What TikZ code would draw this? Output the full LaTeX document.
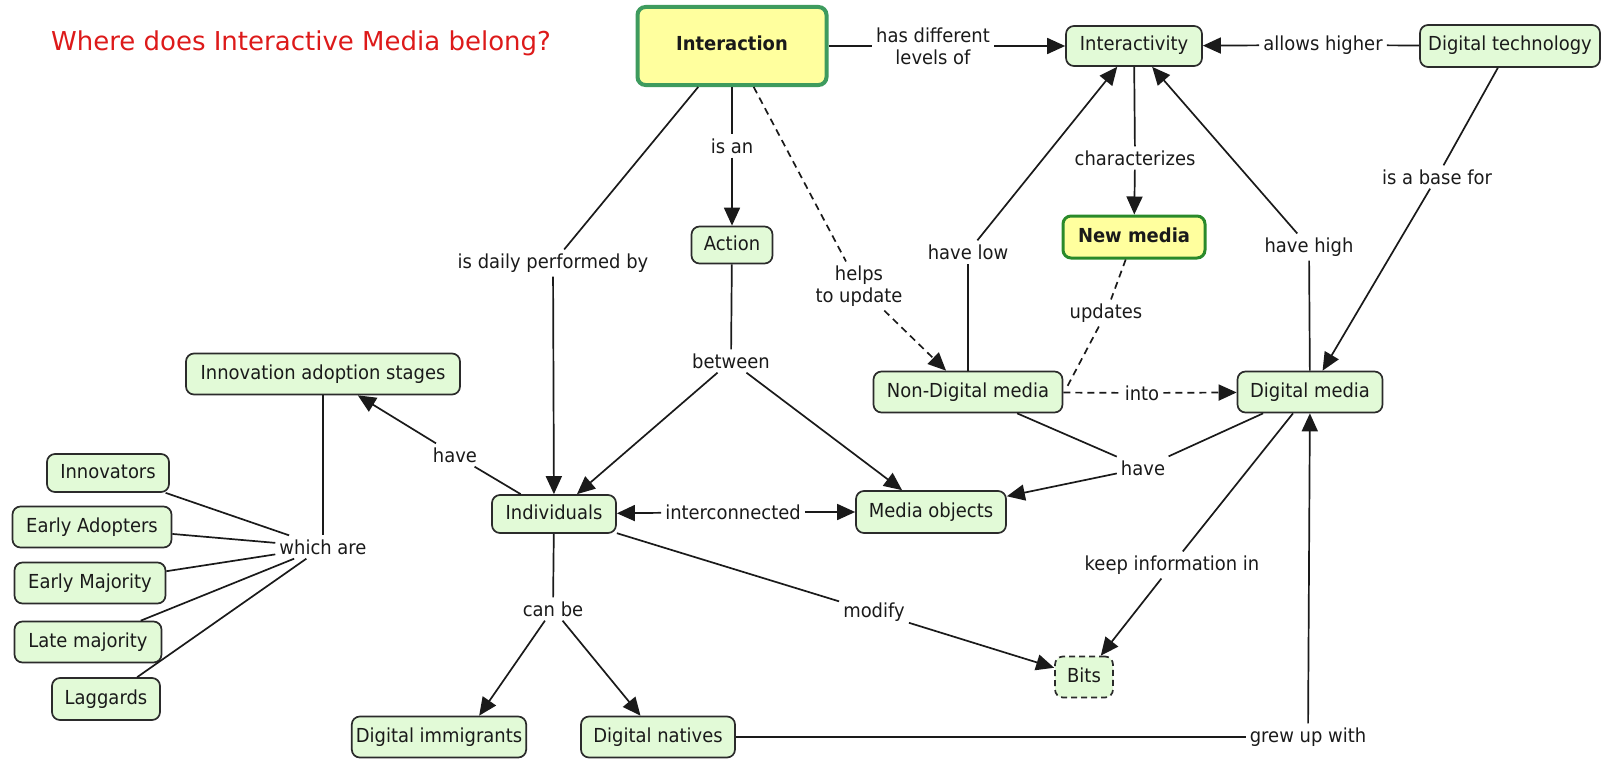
\documentclass[tikz,border=0pt]{standalone}
\usepackage{fontspec}
\setmainfont{DejaVu Sans}[FakeStretch=0.93]
\newfontfamily\titlefont{DejaVu Sans}
\usetikzlibrary{arrows.meta}
\definecolor{nodefill}{HTML}{E2FAD7}
\definecolor{nodeline}{HTML}{2B2B2B}
\definecolor{yel}{HTML}{FFFF9E}
\definecolor{grnA}{HTML}{3E9B5E}
\definecolor{grnB}{HTML}{2A8A2A}
\definecolor{txt}{HTML}{1A1A1A}
\definecolor{ttl}{HTML}{DD1A1A}
\begin{document}
\begin{tikzpicture}[x=1pt,y=-1pt,
  font=\fontsize{19.3}{22}\selectfont,
  concept/.style={draw=nodeline, line width=1.7pt, fill=nodefill, rounded corners=8pt,
    text=txt, inner xsep=4pt, inner ysep=0pt, minimum height=40pt,
    text height=14pt, text depth=4pt},
  keynode/.style={concept, fill=yel, font=\fontsize{19.3}{22}\selectfont\bfseries},
  linkword/.style={text=txt, inner sep=4pt, align=center},
  conn/.style={draw=txt, line width=1.7pt},
  arr/.style={conn, -{Triangle[length=18pt,width=16pt]}},
  dsh/.style={dash pattern=on 7pt off 5pt},
  dbox/.style={dash pattern=on 6pt off 4pt}
]
\useasboundingbox (0,0) rectangle (1602,760);

% title
\node[text=ttl, font=\titlefont\fontsize{26}{30}\selectfont] (title) at (301,43) {Where does Interactive Media belong?};

% concepts
\node[keynode, draw=grnA, line width=4pt, minimum width=189pt, minimum height=78pt] (inter) at (732,46) {Interaction};
\node[concept, minimum width=136pt] (ivity) at (1134,46) {Interactivity};
\node[concept, minimum width=180pt, minimum height=42pt] (dtech) at (1510,46) {Digital technology};
\node[concept, minimum width=81pt, minimum height=37pt] (action) at (732,245) {Action};
\node[keynode, draw=grnB, line width=3pt, minimum width=142pt, minimum height=42pt] (newm) at (1134,237) {New media};
\node[concept, minimum width=274pt, minimum height=41pt] (ias) at (323,374) {Innovation adoption stages};
\node[concept, minimum width=189pt, minimum height=41pt] (ndm) at (968,392) {Non-Digital media};
\node[concept, minimum width=145pt, minimum height=41pt] (dm) at (1310,392) {Digital media};
\node[concept, minimum width=122pt, minimum height=38pt] (innov) at (108,473) {Innovators};
\node[concept, minimum width=159pt, minimum height=41pt] (eadopt) at (92,527) {Early Adopters};
\node[concept, minimum width=151pt, minimum height=41pt] (emaj) at (90,583) {Early Majority};
\node[concept, minimum width=147pt, minimum height=41pt] (late) at (88,642) {Late majority};
\node[concept, minimum width=108pt, minimum height=42pt] (lagg) at (106,699) {Laggards};
\node[concept, minimum width=124pt, minimum height=38pt] (indiv) at (554,514) {Individuals};
\node[concept, minimum width=150pt, minimum height=42pt] (mobj) at (931,512) {Media objects};
\node[concept, dbox, minimum width=58pt, minimum height=41pt] (bits) at (1084,677) {Bits};
\node[concept, minimum width=163pt, minimum height=41pt] (dimm) at (439,737) {Digital immigrants};
\node[concept, minimum width=154pt, minimum height=41pt] (dnat) at (658,737) {Digital natives};

% linking words
\node[linkword] (lhdl) at (933,46) {has different\\levels of};
\node[linkword] (lah) at (1323,45) {allows higher};
\node[linkword] (lisan) at (732,146) {is an};
\node[linkword] (lchar) at (1135,158) {characterizes};
\node[linkword] (lbase) at (1437,177) {is a base for};
\node[linkword] (ldaily) at (553,263) {is daily performed by};
\node[linkword] (lhelps) at (859,286) {helps\\to update};
\node[linkword] (llow) at (968,252) {have low};
\node[linkword] (lhigh) at (1309,247) {have high};
\node[linkword] (lupd) at (1106,313) {updates};
\node[linkword] (lbetw) at (731,361) {between};
\node[linkword] (linto) at (1142,393) {into};
\node[linkword] (lhave1) at (455,455) {have};
\node[linkword] (lhave2) at (1143,468) {have};
\node[linkword] (lwhich) at (323,547) {which are};
\node[linkword] (linter) at (733,512) {interconnected};
\node[linkword] (lkeep) at (1172,565) {keep information in};
\node[linkword] (lcan) at (553,609) {can be};
\node[linkword] (lmod) at (874,612) {modify};
\node[linkword] (lgrew) at (1308,737) {grew up with};

\coordinate (junc) at (1067,387);

% connectors
\draw[conn] (inter) -- (lhdl);  \draw[arr] (lhdl) -- (ivity);
\draw[conn] (dtech) -- (lah);   \draw[arr] (lah) -- (ivity);
\draw[conn] (inter) -- (lisan); \draw[arr] (lisan) -- (action);
\draw[conn] (ivity) -- (lchar); \draw[arr] (lchar) -- (newm);
\draw[conn] (dtech) -- (lbase); \draw[arr] (lbase) -- (dm);
\draw[conn] (inter) -- (ldaily); \draw[arr] (ldaily) -- (indiv);
\draw[conn,dsh] (inter) -- (lhelps); \draw[arr,dsh] (lhelps) -- (ndm);
\draw[conn] (ndm) -- (llow);    \draw[arr] (llow) -- (ivity);
\draw[conn] (dm) -- (lhigh);    \draw[arr] (lhigh) -- (ivity);
\draw[conn,dsh] (newm) -- (lupd); \draw[conn,dsh] (lupd) -- (junc);
\draw[conn,dsh] (ndm) -- (linto); \draw[arr,dsh] (linto) -- (dm);
\draw[conn] (action) -- (lbetw); \draw[arr] (lbetw) -- (indiv); \draw[arr] (lbetw) -- (mobj);
\draw[conn] (indiv) -- (lhave1); \draw[arr] (lhave1) -- (ias);
\draw[conn] (ias) -- (lwhich);
\draw[conn] (lwhich) -- (innov);
\draw[conn] (lwhich) -- (eadopt);
\draw[conn] (lwhich) -- (emaj);
\draw[conn] (lwhich) -- (late);
\draw[conn] (lwhich) -- (lagg);
\draw[arr] (linter) -- (indiv); \draw[arr] (linter) -- (mobj);
\draw[conn] (ndm) -- (lhave2); \draw[conn] (dm) -- (lhave2); \draw[arr] (lhave2) -- (mobj);
\draw[conn] (dm) -- (lkeep); \draw[arr] (lkeep) -- (bits);
\draw[conn] (indiv) -- (lcan); \draw[arr] (lcan) -- (dimm.28); \draw[arr] (lcan) -- (dnat);
\draw[conn] (indiv) -- (lmod); \draw[arr] (lmod) -- (bits);
\draw[conn] (dnat) -- (lgrew); \draw[arr] (lgrew) -- (dm);
\end{tikzpicture}
\end{document}
